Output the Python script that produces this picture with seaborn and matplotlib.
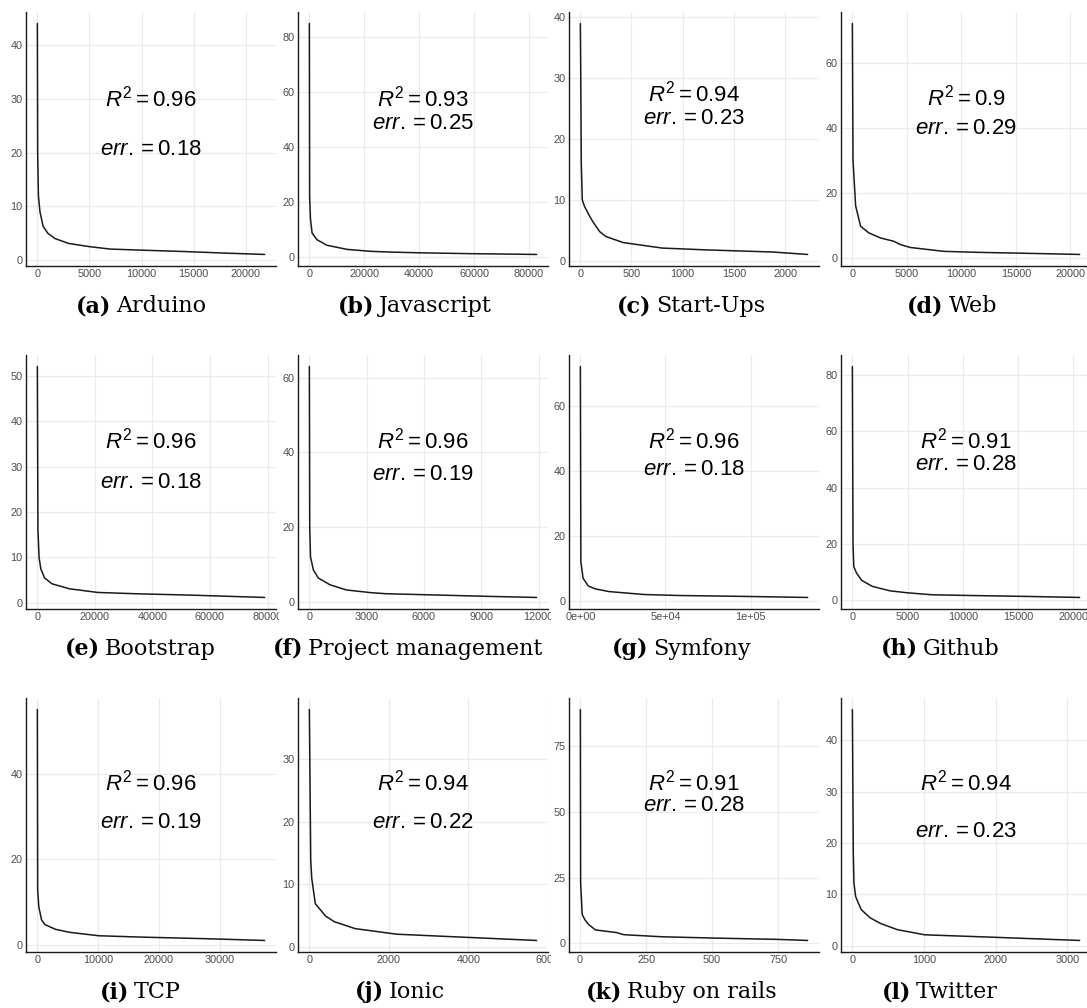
import numpy as np
import pandas as pd
import seaborn as sns
import matplotlib.pyplot as plt
from matplotlib.transforms import Bbox, TransformedBbox

# rank / degree knots
arduino_rank = [1, 30, 100, 250, 550, 1000, 1700, 3000, 5000, 7000, 10000, 14000, 18000, 21800]
arduino_deg = [44, 20, 12, 9, 6.3, 5, 4, 3.1, 2.5, 2.05, 1.85, 1.6, 1.3, 1.05]

javascript_rank = [1, 100, 400, 1000, 2800, 6400, 13700, 22000, 30000, 40000, 58000, 82800]
javascript_deg = [85, 22, 14, 8.8, 6.4, 4.4, 2.9, 2.2, 1.9, 1.65, 1.35, 1.05]

startups_rank = [1, 5, 10, 20, 40, 90, 120, 190, 250, 420, 800, 1230, 1880, 2220]
startups_deg = [39, 30, 16, 10, 9, 7.4, 6.5, 4.8, 4, 3, 2.1, 1.8, 1.45, 1.05]

web_rank = [1, 60, 300, 760, 1500, 2600, 3800, 4400, 5300, 8400, 11500, 16000, 20850]
web_deg = [72, 30, 16, 9.7, 7.7, 6.1, 5.1, 4.1, 3.2, 2.0, 1.7, 1.4, 1.05]

bootstrap_rank = [1, 200, 600, 1200, 2500, 5100, 11200, 21000, 35000, 54000, 79000]
bootstrap_deg = [52, 16, 10, 7.5, 5.5, 4.2, 3.1, 2.3, 2.0, 1.7, 1.2]

projman_rank = [1, 20, 60, 210, 470, 1080, 1950, 3200, 4000, 6700, 9300, 11900]
projman_deg = [63, 20, 12, 8.5, 6.3, 4.5, 3.1, 2.4, 2.1, 1.75, 1.4, 1.1]

symfony_rank = [1, 300, 1600, 4700, 9000, 17000, 37500, 58000, 99000, 133500]
symfony_deg = [72, 12, 6.9, 4.5, 3.6, 2.8, 1.9, 1.6, 1.3, 1.0]

github_rank = [1, 60, 130, 380, 850, 1800, 3400, 5000, 7200, 11300, 16000, 20570]
github_deg = [83, 20, 12, 9.7, 7.1, 5, 3.4, 2.7, 2.0, 1.7, 1.4, 1.05]

tcp_rank = [1, 50, 230, 690, 1260, 3000, 5300, 10100, 16700, 28000, 37400]
tcp_deg = [55, 13, 8.9, 5.8, 4.7, 3.6, 2.9, 2.1, 1.8, 1.4, 1.0]

ionic_rank = [1, 35, 60, 150, 410, 630, 1150, 2200, 3600, 5720]
ionic_deg = [38, 14, 11, 6.9, 4.9, 4.0, 2.9, 2.0, 1.6, 1.0]

ruby_rank = [1, 2, 8, 18, 32, 58, 138, 165, 310, 510, 750, 862]
ruby_deg = [89, 23, 11, 9, 7.2, 5.1, 4.1, 3.3, 2.5, 2.0, 1.5, 1.1]

twitter_rank = [1, 14, 23, 46, 93, 125, 250, 395, 630, 1010, 2020, 3170]
twitter_deg = [46, 18, 12.2, 9.6, 8.0, 7.0, 5.4, 4.3, 3.1, 2.1, 1.6, 1.0]

letters = list("abcdefghijkl")
names = ["Arduino", "Javascript", "Start-Ups", "Web",
         "Bootstrap", "Project management", "Symfony", "Github",
         "TCP", "Ionic", "Ruby on rails", "Twitter"]
ranks = [arduino_rank, javascript_rank, startups_rank, web_rank,
         bootstrap_rank, projman_rank, symfony_rank, github_rank,
         tcp_rank, ionic_rank, ruby_rank, twitter_rank]
degs = [arduino_deg, javascript_deg, startups_deg, web_deg,
        bootstrap_deg, projman_deg, symfony_deg, github_deg,
        tcp_deg, ionic_deg, ruby_deg, twitter_deg]
r2_vals = ["0.96", "0.93", "0.94", "0.9", "0.96", "0.96", "0.96", "0.91", "0.96", "0.94", "0.91", "0.94"]
err_vals = ["0.18", "0.25", "0.23", "0.29", "0.18", "0.19", "0.18", "0.28", "0.19", "0.22", "0.28", "0.23"]

x_ticks = [
    [0, 5000, 10000, 15000, 20000],
    [0, 20000, 40000, 60000, 80000],
    [0, 500, 1000, 1500, 2000],
    [0, 5000, 10000, 15000, 20000],
    [0, 20000, 40000, 60000, 80000],
    [0, 3000, 6000, 9000, 12000],
    [0, 50000, 100000],
    [0, 5000, 10000, 15000, 20000],
    [0, 10000, 20000, 30000],
    [0, 2000, 4000, 6000],
    [0, 250, 500, 750],
    [0, 1000, 2000, 3000],
]
symfony_xlabels = ["0e+00", "5e+04", "1e+05"]
y_ticks = [
    [0, 10, 20, 30, 40],
    [0, 20, 40, 60, 80],
    [0, 10, 20, 30, 40],
    [0, 20, 40, 60],
    [0, 10, 20, 30, 40, 50],
    [0, 20, 40, 60],
    [0, 20, 40, 60],
    [0, 20, 40, 60, 80],
    [0, 20, 40],
    [0, 10, 20, 30],
    [0, 25, 50, 75],
    [0, 10, 20, 30, 40],
]

# layout (pixels / axes fractions)
W, H = 1087, 1008
col_left = [26, 298, 569, 841]
row_top = [12, 355, 698]
ax_w, ax_h = 250, 254
col_clip = [(0, 279), (280, 551), (552, 826), (827, 1087)]
cap_x = [[141, 415, 691, 952], [140, 408, 681, 940], [140, 400, 681, 940]]
cap_base = [312, 655, 998]
r2_y = [0.66, 0.66, 0.68, 0.665, 0.665, 0.665, 0.665, 0.665, 0.667, 0.667, 0.667, 0.667]
err_y = [0.46, 0.56, 0.58, 0.54, 0.50, 0.53, 0.55, 0.57, 0.51, 0.51, 0.576, 0.475]

sns.set_theme(style="whitegrid")
plt.rcParams['font.family'] = ['Liberation Sans', 'DejaVu Sans']
plt.rcParams['mathtext.fontset'] = 'custom'
plt.rcParams['mathtext.rm'] = 'Liberation Sans'
plt.rcParams['mathtext.it'] = 'Liberation Sans:italic'
plt.rcParams['mathtext.bf'] = 'Liberation Sans:bold'

fig = plt.figure(figsize=(W / 100, H / 100), dpi=100)
fig.patch.set_facecolor("white")

for i in range(12):
    row, col = divmod(i, 4)
    l, t = col_left[col], row_top[row]
    ax = fig.add_axes([l / W, 1 - (t + ax_h) / H, ax_w / W, ax_h / H])
    ax.set_facecolor("white")

    df = pd.DataFrame({"rank": ranks[i], "degree": degs[i]})
    sns.lineplot(data=df, x="rank", y="degree", ax=ax, color="#1a1a1a",
                 linewidth=1.1, estimator=None, sort=False)

    xs, ys = np.array(ranks[i]), np.array(degs[i])
    xspan, yspan = xs.max() - xs.min(), ys.max() - ys.min()
    ax.set_xticks(x_ticks[i])
    if names[i] == "Symfony":
        ax.set_xticklabels(symfony_xlabels)
    ax.set_yticks(y_ticks[i])
    ax.set_xlim(xs.min() - 0.05 * xspan, xs.max() + 0.05 * xspan)
    ax.set_ylim(ys.min() - 0.05 * yspan, ys.max() + 0.05 * yspan)
    ax.set_xlabel("")
    ax.set_ylabel("")

    ax.grid(True, color="#EBEBEB", linewidth=0.9)
    ax.set_axisbelow(True)
    for s in ["top", "right"]:
        ax.spines[s].set_visible(False)
    for s in ["left", "bottom"]:
        ax.spines[s].set_visible(True)
        ax.spines[s].set_color("#1a1a1a")
        ax.spines[s].set_linewidth(1.0)
    ax.tick_params(length=0, pad=2.5, labelsize=7.8, labelcolor="#4D4D4D")

    c0, c1 = col_clip[col]
    clip = TransformedBbox(Bbox([[c0 / W, 0], [c1 / W, 1]]), fig.transFigure)
    for lab in ax.get_xticklabels():
        lab.set_clip_box(clip)
        lab.set_clip_on(True)

    ax.text(0.5, r2_y[i], rf"$R^2 = {r2_vals[i]}$", transform=ax.transAxes,
            ha="center", va="center", fontsize=16, color="black")
    ax.text(0.5, err_y[i], rf"$err. = {err_vals[i]}$", transform=ax.transAxes,
            ha="center", va="center", fontsize=16, color="black")

# captions: bold letter + regular name, centred under each panel
renderer = fig.canvas.get_renderer()
cap_size = 16
for i in range(12):
    row, col = divmod(i, 4)
    yb = 1 - cap_base[row] / H
    t1 = fig.text(0, yb, f"({letters[i]})", family="DejaVu Serif", fontweight="bold",
                  fontsize=cap_size, va="baseline", ha="left", color="black")
    t2 = fig.text(0, yb, names[i], family="DejaVu Serif", fontsize=cap_size,
                  va="baseline", ha="left", color="black")
    w1 = t1.get_window_extent(renderer).width
    w2 = t2.get_window_extent(renderer).width
    gap = cap_size * 0.3
    x0 = cap_x[row][col] - (w1 + gap + w2) / 2
    t1.set_x(x0 / W)
    t2.set_x((x0 + w1 + gap) / W)

fig.savefig("out.png", dpi=100)
